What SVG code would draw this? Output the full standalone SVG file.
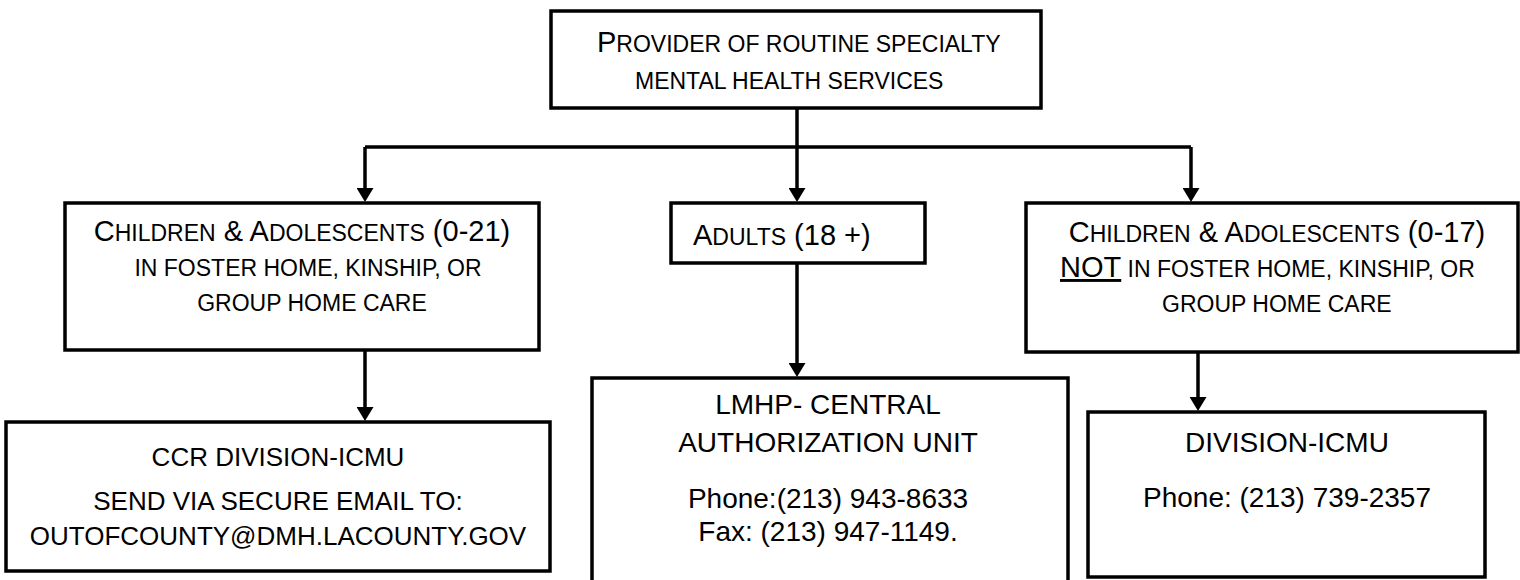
<svg xmlns="http://www.w3.org/2000/svg" width="1520" height="580" viewBox="0 0 1520 580">
<defs>
<style>
.box{fill:#fff;stroke:#000;stroke-width:3.5}
.t{font-family:"Liberation Sans",Arial,sans-serif;fill:#000;text-anchor:middle}
.ts{font-family:"Liberation Sans",Arial,sans-serif;fill:#000;text-anchor:start}
.L{font-size:29px}
.S{font-size:23px}
.b{font-size:28px}
.e{font-size:26px}
.c{fill:none;stroke:#000;stroke-width:3.5}
</style>
<marker id="ah" markerUnits="userSpaceOnUse" markerWidth="14" markerHeight="17" refX="4" refY="8.5" orient="auto">
<path d="M0,0 L14,8.5 L0,17 z" fill="#000"/>
</marker>
</defs>
<rect width="1520" height="580" fill="#fff"/>
<g id="connectors">
<path class="c" d="M797,108 V147"/>
<path class="c" d="M365,147 H1191"/>
<path class="c" d="M365,147 V192" marker-end="url(#ah)"/>
<path class="c" d="M797,147 V192" marker-end="url(#ah)"/>
<path class="c" d="M1191,147 V192" marker-end="url(#ah)"/>
<path class="c" d="M365,350 V411" marker-end="url(#ah)"/>
<path class="c" d="M797,263 V367" marker-end="url(#ah)"/>
<path class="c" d="M1198,352 V401" marker-end="url(#ah)"/>
</g>
<g id="provider">
<rect class="box" x="551" y="11" width="490" height="97"/>
<text class="ts" x="597" y="52"><tspan class="L">P</tspan><tspan class="S">ROVIDER OF ROUTINE SPECIALTY</tspan></text>
<text class="ts S" x="635" y="89">MENTAL HEALTH SERVICES</text>
</g>
<g id="children-foster">
<rect class="box" x="65" y="203" width="474" height="147"/>
<text class="t" x="302" y="241"><tspan class="L">C</tspan><tspan class="S">HILDREN</tspan><tspan class="L"> &amp; A</tspan><tspan class="S">DOLESCENTS</tspan><tspan class="L"> (0-21)</tspan></text>
<text class="t S" x="308" y="276">IN FOSTER HOME, KINSHIP, OR</text>
<text class="t S" x="312" y="311">GROUP HOME CARE</text>
</g>
<g id="adults">
<rect class="box" x="671" y="203" width="254" height="60"/>
<text class="ts" x="693" y="245"><tspan class="L">A</tspan><tspan class="S">DULTS</tspan><tspan class="L"> (18 +)</tspan></text>
</g>
<g id="children-not-foster">
<rect class="box" x="1026" y="203" width="492" height="149"/>
<text class="t" x="1277" y="242"><tspan class="L">C</tspan><tspan class="S">HILDREN</tspan><tspan class="L"> &amp; A</tspan><tspan class="S">DOLESCENTS</tspan><tspan class="L"> (0-17)</tspan></text>
<text class="ts" x="1060" y="277"><tspan class="L" text-decoration="underline">NOT</tspan><tspan class="S"> IN FOSTER HOME, KINSHIP, OR</tspan></text>
<text class="ts S" x="1162" y="312">GROUP HOME CARE</text>
</g>
<g id="ccr">
<rect class="box" x="6" y="422" width="544" height="149"/>
<text class="t e" x="278" y="466">CCR DIVISION-ICMU</text>
<text class="t e" x="278" y="510">SEND VIA SECURE EMAIL TO:</text>
<text class="t e" x="278" y="545">OUTOFCOUNTY@DMH.LACOUNTY.GOV</text>
</g>
<g id="lmhp">
<rect class="box" x="592" y="378" width="476" height="220"/>
<text class="t b" x="828" y="414">LMHP- CENTRAL</text>
<text class="t b" x="828" y="452">AUTHORIZATION UNIT</text>
<text class="t b" x="828" y="508">Phone:(213) 943-8633</text>
<text class="t b" x="828" y="541">Fax: (213) 947-1149.</text>
</g>
<g id="division">
<rect class="box" x="1088" y="412" width="397" height="165"/>
<text class="t b" x="1287" y="452">DIVISION-ICMU</text>
<text class="t b" x="1287" y="507">Phone: (213) 739-2357</text>
</g>
</svg>
